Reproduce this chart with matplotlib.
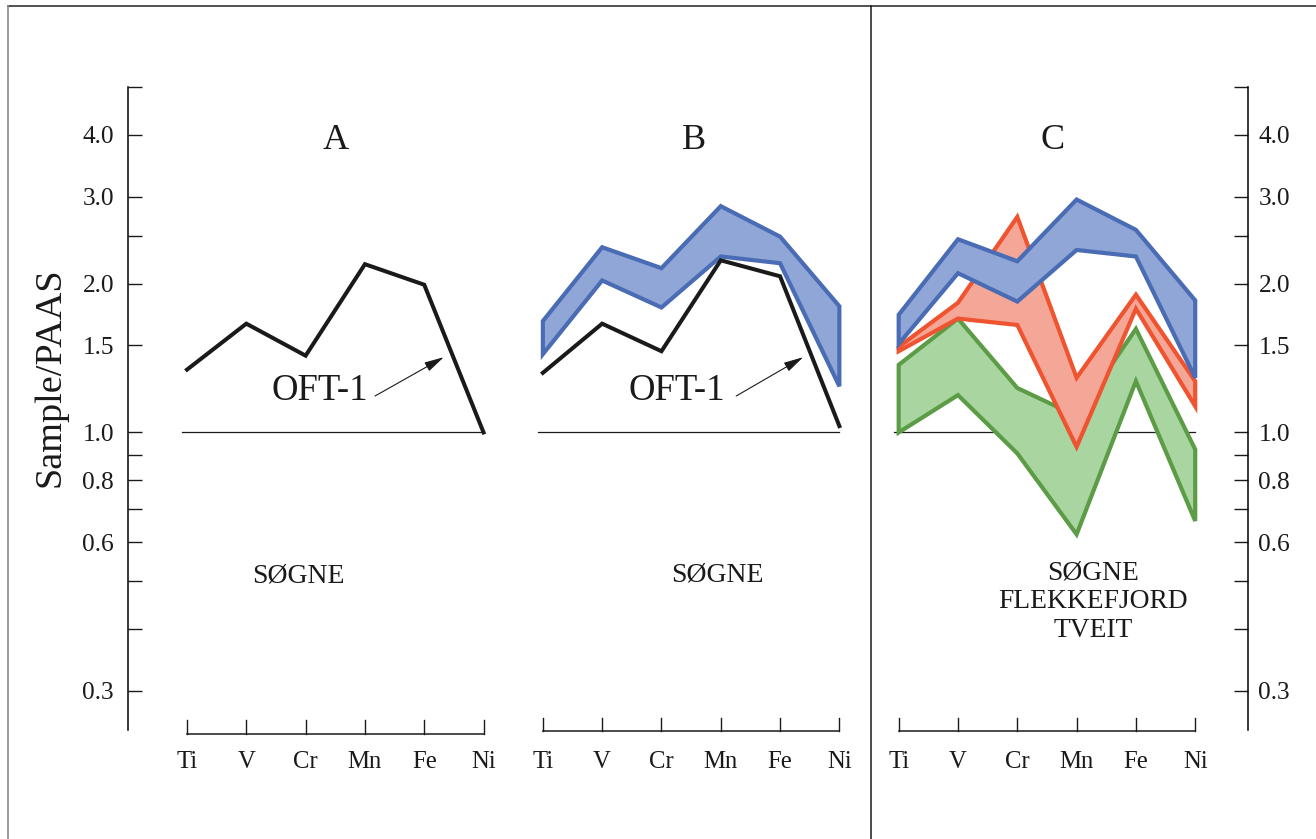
import numpy as np
import matplotlib.pyplot as plt
from matplotlib.lines import Line2D
from matplotlib.transforms import blended_transform_factory

elements = ["Ti", "V", "Cr", "Mn", "Fe", "Ni"]
panel_names = ["A", "B", "C"]
panel_offsets = [0, 6, 12]

# OFT-1 profile
oft1_a = [1.34, 1.66, 1.43, 2.19, 1.99, 1.00]
oft1_b = [1.32, 1.66, 1.46, 2.23, 2.07, 1.03]

# ranges, upper and lower bound of each field
sogne_b_hi = [1.68, 2.37, 2.15, 2.87, 2.49, 1.80]
sogne_b_lo = [1.44, 2.03, 1.79, 2.27, 2.20, 1.24]
sogne_c_hi = [1.73, 2.46, 2.22, 2.96, 2.57, 1.85]
sogne_c_lo = [1.51, 2.10, 1.84, 2.34, 2.27, 1.29]
flekk_hi = [1.49, 1.83, 2.73, 1.29, 1.90, 1.27]
flekk_lo = [1.46, 1.70, 1.65, 0.935, 1.78, 1.13]
tveit_hi = [1.37, 1.70, 1.23, 1.08, 1.62, 0.924]
tveit_lo = [1.00, 1.19, 0.907, 0.622, 1.27, 0.662]

y_major = [0.3, 0.6, 0.8, 1.0, 1.5, 2.0, 3.0, 4.0]
y_minor = [0.4, 0.5, 0.7, 0.9, 2.5, 5.0]

BLUE = ("#8fa6d6", "#4a6cb4")
RED = ("#f5a797", "#ef5330")
GREEN = ("#a8d5a0", "#5c9c46")
INK = "#1a1a1a"

plt.rcParams["font.family"] = ["Liberation Serif", "DejaVu Serif"]

W, H = 1316, 839
fig = plt.figure(figsize=(W / 100, H / 100), dpi=100)
ax_l, ax_r, ax_t, ax_b = 128, 1248, 87, 730
ax = fig.add_axes([ax_l / W, 1 - ax_b / H, (ax_r - ax_l) / W, (ax_b - ax_t) / H])
ax.set_yscale("log")
ax.set_ylim(0.25, 5.0)
ax.set_xlim(-0.995, 17.89)

for s in ["top", "bottom", "right"]:
    ax.spines[s].set_visible(False)
ax.spines["left"].set_linewidth(1.1)
ax.set_xticks([])


def style_y(a, pad):
    a.set_yticks(y_major)
    a.set_yticklabels([f"{v:.1f}" for v in y_major])
    a.set_yticks(y_minor, minor=True)
    a.set_yticklabels([], minor=True)
    a.tick_params(axis="y", which="both", direction="in", length=10, width=1.0,
                  color=INK, pad=pad, labelsize=18.3, labelcolor=INK)


style_y(ax, 10.0)
ax2 = ax.twinx()
ax2.set_yscale("log")
ax2.set_ylim(ax.get_ylim())
for s in ["top", "bottom", "left"]:
    ax2.spines[s].set_visible(False)
ax2.spines["right"].set_linewidth(1.1)
style_y(ax2, 7.5)

# reference line at 1.0 and x scales for each panel
trans = blended_transform_factory(ax.transData, ax.transAxes)
base_y = [-0.0062, -0.0016, -0.0016]
for i, (off, by, name) in enumerate(zip(panel_offsets, base_y, panel_names)):
    x = np.arange(len(elements)) + off
    ax.plot([x[0] - 0.08, x[-1]], [1.0, 1.0], color=INK, lw=0.9, zorder=1)
    ax.plot([x[0], x[-1]], [by, by], transform=trans, color=INK, lw=1.1, clip_on=False)
    for xi, el in zip(x, elements):
        ax.plot([xi, xi], [by, by + 0.021], transform=trans, color=INK, lw=1.0, clip_on=False)
        ax.text(xi, -0.05, el, transform=trans, ha="center", va="center", fontsize=17.8, color=INK)
    ax.text(off + 2.5 + 0.05 * i, 3.9, name, ha="center", va="center", fontsize=26, color=INK)


def band(a, off, hi, lo, colors, z):
    x = np.arange(len(hi)) + off
    a.fill(np.r_[x, x[::-1]], np.r_[hi, lo[::-1]], facecolor=colors[0], edgecolor=colors[1],
           lw=3.0, joinstyle="miter", zorder=z)


# panel A
xa = np.arange(len(elements)) + panel_offsets[0]
ax.plot(xa, oft1_a, color=INK, lw=2.9, solid_joinstyle="miter", zorder=5)

# panel B
band(ax, panel_offsets[1], sogne_b_hi, sogne_b_lo, BLUE, 3)
xb = np.arange(len(elements)) + panel_offsets[1]
ax.plot(xb, oft1_b, color=INK, lw=2.9, solid_joinstyle="miter", zorder=5)

# panel C
band(ax, panel_offsets[2], tveit_hi, tveit_lo, GREEN, 2)
band(ax, panel_offsets[2], flekk_hi, flekk_lo, RED, 3)
band(ax, panel_offsets[2], sogne_c_hi, sogne_c_lo, BLUE, 4)

# OFT-1 labels with arrows
for tx, ax0, tip in [(2.24, 3.17, 4.33), (8.26, 9.26, 10.39)]:
    ax.text(tx, 1.215, "OFT-1", ha="center", va="center", fontsize=26.5, color=INK)
    ax.annotate("", xy=(tip, 1.42), xytext=(ax0, 1.185),
                arrowprops=dict(arrowstyle="-|>,head_length=1.2,head_width=0.3",
                                color=INK, lw=0.8, shrinkA=0, shrinkB=0))

ax.text(1.87, 0.512, "SØGNE", ha="center", va="center", fontsize=20, color=INK)
ax.text(8.95, 0.515, "SØGNE", ha="center", va="center", fontsize=20, color=INK)
ax.text(15.28, 0.455, "SØGNE\nFLEKKEFJORD\nTVEIT", ha="center", va="center",
        multialignment="center", linespacing=1.2, fontsize=19.8, color=INK)

fig.text(50 / W, 1 - 377 / H, "Sample/PAAS", rotation=90, ha="center", va="center",
         fontsize=27.5, color=INK)

# frame and divider
fig.add_artist(Line2D([8 / W, 1], [1 - 6 / H, 1 - 6 / H], color="#333333", lw=1.2))
fig.add_artist(Line2D([8 / W, 8 / W], [0, 1 - 6 / H], color="#888888", lw=1.2))
fig.add_artist(Line2D([871 / W, 871 / W], [0, 1 - 6 / H], color=INK, lw=1.1))

fig.savefig("out.png", dpi=100, facecolor="white")
